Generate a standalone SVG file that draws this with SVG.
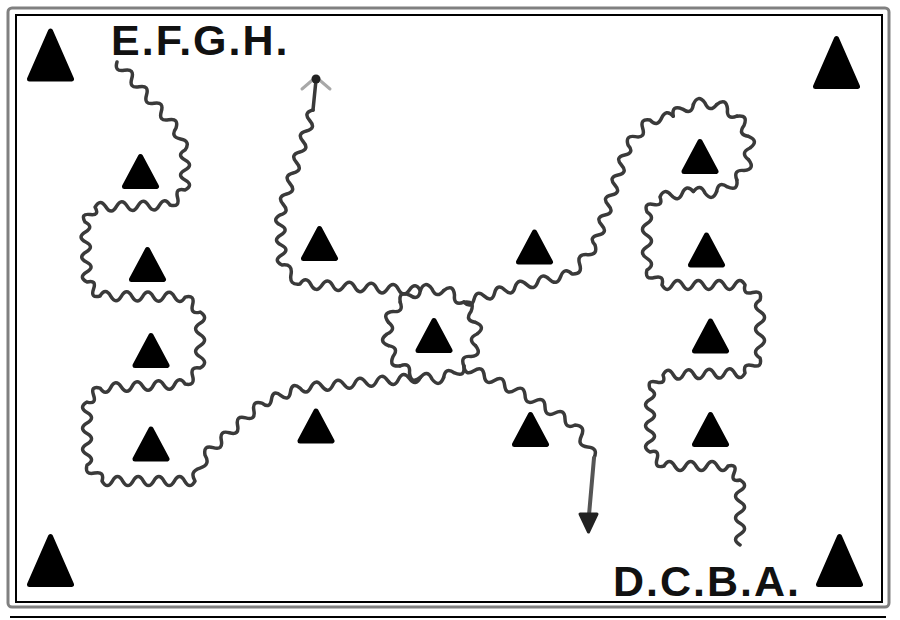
<svg xmlns="http://www.w3.org/2000/svg" xmlns:xlink="http://www.w3.org/1999/xlink" width="900" height="620" viewBox="0 0 900 620">
<style>
.w{fill:none;stroke:#3a3a3a;stroke-width:3.5;stroke-linecap:round;stroke-linejoin:round}
.t{fill:#000;stroke:#000;stroke-width:5;stroke-linejoin:round}
.lbl{font-family:"Liberation Sans",Arial,sans-serif;font-weight:bold;font-size:43px;fill:#111;letter-spacing:2px}
</style>
<defs>
<path id="arc" d="M-11.65 -43.47Q-7.18 -54.53 0 -45Q4.57 -34.70 11.65 -43.47"/>
<polygon id="st" points="0,-15 16,15 -16,15"/>
<polygon id="bt" points="0,-24 21,24 -21,24"/>
</defs>
<rect width="900" height="620" fill="#fff"/>
<g id="frame" fill="none">
<rect x="8" y="8" width="881" height="599" rx="4" stroke="#808080" stroke-width="3"/>
<rect x="16" y="15" width="866" height="587" stroke="#000" stroke-width="2"/>
<line x1="10" y1="617" x2="886" y2="617" stroke="#000" stroke-width="2"/>
</g>
<g id="corner-markers" class="t">
<use id="c-tl" xlink:href="#bt" href="#bt" x="50.5" y="55"/>
<use id="c-tr" xlink:href="#bt" href="#bt" x="836.5" y="62.5"/>
<use id="c-bl" xlink:href="#bt" href="#bt" x="50.5" y="560.5"/>
<use id="c-br" xlink:href="#bt" href="#bt" x="839.5" y="560.5"/>
</g>
<g id="markers" class="t">
<use id="t1" xlink:href="#st" href="#st" x="140.5" y="171.5"/>
<use id="t2" xlink:href="#st" href="#st" x="147.5" y="264.5"/>
<use id="t3" xlink:href="#st" href="#st" x="151" y="350.5"/>
<use id="t4" xlink:href="#st" href="#st" x="151" y="444"/>
<use id="t5" xlink:href="#st" href="#st" x="319.5" y="243.5"/>
<use id="t6" xlink:href="#st" href="#st" x="534.5" y="247"/>
<use id="t7" xlink:href="#st" href="#st" x="434" y="335.5"/>
<use id="t8" xlink:href="#st" href="#st" x="316" y="426"/>
<use id="t9" xlink:href="#st" href="#st" x="530.5" y="429.5"/>
<use id="r1" xlink:href="#st" href="#st" x="700" y="156.5"/>
<use id="r2" xlink:href="#st" href="#st" x="706.5" y="250"/>
<use id="r3" xlink:href="#st" href="#st" x="710.5" y="336"/>
<use id="r4" xlink:href="#st" href="#st" x="710.5" y="429.5"/>
</g>
<g id="labels">
<text id="lbl-efgh" class="lbl" x="111" y="55">E.F.G.H.</text>
<text id="lbl-dcba" class="lbl" x="613" y="596">D.C.B.A.</text>
</g>
<g id="connectors" class="w">
<path id="path-left" d="M117 62q-3.02 10.13 7.38 8.25t7.38 8.25 7.38 8.25 7.38 8.25 7.38 8.25 7.38 8.25 7.38 8.25 7.38 8.25q-6.09 8.91 4.5 11t4.5 11q-9 5 0 10t0 10 0 10 0 10q-10.12 -2.62 -7.5 7.5t-7.5 7.5q-5.6 -8.86 -10.71 0.29t-10.71 0.29 -10.71 0.29 -10.71 0.29 -10.71 0.29 -10.71 0.29 -10.71 0.29q5 8.75 -5 7.5t-5 7.5q9.17 4.7 0.33 10t0.33 10 0.33 10 0.33 10 0.33 10 0.33 10q9.85 -2.62 6.5 7t6.5 7q5.43 -8.94 10.63 0.13t10.63 0.13 10.63 0.13 10.63 0.13 10.63 0.13 10.63 0.13 10.63 0.13 10.63 0.13q10.12 -2.62 7.5 7.5t7.5 7.5q9 5.6 0 11.2t0 11.2 0 11.2 0 11.2 0 11.2q-10.31 -2.15 -7.5 8t-7.5 8q-5.74 -8.74 -10.63 0.5t-10.63 0.5 -10.63 0.5 -10.63 0.5 -10.63 0.5 -10.63 0.5 -10.63 0.5 -10.63 0.5q-9.85 -2.62 -6.5 7t-6.5 7q-9 5.25 0 10.5t0 10.5 0 10.5 0 10.5 0 10.5 0 10.5q-2.81 10.15 7.5 8t7.5 8q5.17 9 10.33 0t10.33 0 10.33 0 10.33 0 10.33 0 10.33 0 10.33 0 10.33 0 10.33 0q-5.91 -9.74 5 -13t5 -13q-2 -10.37 8.14 -7.43t8.14 -7.43 8.14 -7.43 8.14 -7.43 8.14 -7.43 8.14 -7.43 8.14 -7.43q8.05 6.5 9.5 -3.75t9.5 -3.75 9.5 -3.75 9.5 -3.75q6.26 8.49 10.94 -0.96t10.94 -0.96 10.94 -0.96 10.94 -0.96 10.94 -0.96 10.94 -0.96 10.94 -0.96 10.94 -0.96 10.94 -0.96 10.94 -0.96 10.94 -0.96"/>
<path id="path-upper-left" d="M313 110q-10.24 2.55 -3.3 10.5t-3.3 10.5 -3.3 10.5 -3.3 10.5 -3.3 10.5 -3.3 10.5 -3.3 10.5 -3.3 10.5 -3.3 10.5 -3.3 10.5q-8.8 5.36 0.4 10t0.4 10 0.4 10 0.4 10 0.4 10q11.04 -1.44 9 9.5t9 9.5q5.96 -8.68 10.94 0.59t10.94 0.59 10.94 0.59 10.94 0.59 10.94 0.59 10.94 0.59 10.94 0.59 10.94 0.59 10.94 0.59 10.94 0.59 10.94 0.59"/>
<path id="path-upper-right" d="M463.82 302.18q7.68 7.11 10.24 -3.04t10.24 -3.04 10.24 -3.04 10.24 -3.04 10.24 -3.04q3.7 -10.08 11.4 -2.6t11.4 -2.6 11.4 -2.6 11.4 -2.6 11.4 -2.6q10.89 0.76 7.67 -9.67t7.67 -9.67 7.67 -9.67q-6.9 -7.82 3.3 -10t3.3 -10 3.3 -10 3.3 -10 3.3 -10 3.3 -10 3.3 -10 3.3 -10 3.3 -10 3.3 -10q-3.1 -10.11 7.33 -8.33t7.33 -8.33 7.33 -8.33q7.25 7.92 11.58 -1.9t11.58 -1.9"/>
<path id="path-right" d="M693.35 191.47q-7.03 -7.96 -11.12 1.84t-11.12 1.84 -11.12 1.84q3.55 9.65 -6.5 7.5t-6.5 7.5q9 5.8 0 11.6t0 11.6 0 11.6 0 11.6 0 11.6q-2.62 10.12 7.5 7.5t7.5 7.5q5.19 9 10.38 0t10.38 0 10.38 0 10.38 0 10.38 0 10.38 0 10.38 0 10.38 0q-2.62 10.12 7.5 7.5t7.5 7.5q-9 5.8 0 11.6t0 11.6 0 11.6 0 11.6 0 11.6q2.62 10.12 -7.5 7.5t-7.5 7.5q-4.9 9.13 -10.25 0.25t-10.25 0.25 -10.25 0.25 -10.25 0.25 -10.25 0.25 -10.25 0.25 -10.25 0.25 -10.25 0.25q3.35 9.62 -6.5 7t-6.5 7q9 5.25 0 10.5t0 10.5 0 10.5 0 10.5 0 10.5 0 10.5q9.86 -2.86 7 7t7 7q5.33 -9 10.67 0t10.67 0 10.67 0 10.67 0 10.67 0 10.67 0q9.83 -2.36 6 7t6 7q9 5.42 0 10.83t0 10.83 0 10.83 0 10.83 0 10.83 0 10.83"/>
<path id="path-lower-right" d="M463.82 365.82q1.23 10.55 10.2 4.86t10.2 4.86 10.2 4.86 10.2 4.86 10.2 4.86 10.2 4.86q0.37 10.72 10 6t10 6 10 6 10 6 10 6q10.97 1.01 6.33 11t6.33 11 6.33 11"/>
<g id="center-circle">
<use xlink:href="#arc" href="#arc" transform="translate(432 334) rotate(0)"/>
<use xlink:href="#arc" href="#arc" transform="translate(432 334) rotate(30)"/>
<use xlink:href="#arc" href="#arc" transform="translate(432 334) rotate(60)"/>
<use xlink:href="#arc" href="#arc" transform="translate(432 334) rotate(90)"/>
<use xlink:href="#arc" href="#arc" transform="translate(432 334) rotate(120)"/>
<use xlink:href="#arc" href="#arc" transform="translate(432 334) rotate(150)"/>
<use xlink:href="#arc" href="#arc" transform="translate(432 334) rotate(180)"/>
<use xlink:href="#arc" href="#arc" transform="translate(432 334) rotate(210)"/>
<use xlink:href="#arc" href="#arc" transform="translate(432 334) rotate(240)"/>
<use xlink:href="#arc" href="#arc" transform="translate(432 334) rotate(270)"/>
<use xlink:href="#arc" href="#arc" transform="translate(432 334) rotate(300)"/>
<use xlink:href="#arc" href="#arc" transform="translate(432 334) rotate(330)"/>
</g>
<g id="r1-loop">
<use xlink:href="#arc" href="#arc" transform="translate(705 148) rotate(330)"/>
<use xlink:href="#arc" href="#arc" transform="translate(705 148) rotate(0)"/>
<use xlink:href="#arc" href="#arc" transform="translate(705 148) rotate(30)"/>
<use xlink:href="#arc" href="#arc" transform="translate(705 148) rotate(60)"/>
<use xlink:href="#arc" href="#arc" transform="translate(705 148) rotate(90)"/>
<use xlink:href="#arc" href="#arc" transform="translate(705 148) rotate(120)"/>
<use xlink:href="#arc" href="#arc" transform="translate(705 148) rotate(150)"/>
<use xlink:href="#arc" href="#arc" transform="translate(705 148) rotate(180)"/>
</g>
<g id="arrow-up">
<path d="M316 80L313 110"/>
<polyline points="302,89 316,77 330,89" stroke="#a8a8a8" stroke-width="3"/>
<circle cx="316" cy="79" r="4.5" fill="#222" stroke="none"/>
</g>
<g id="arrow-down">
<path d="M594 458L589 515" stroke="#555" stroke-width="4"/>
<polygon points="580,514 597,514 588.5,532" fill="#222" stroke="#222" stroke-width="3"/>
</g>
</g>
</svg>
